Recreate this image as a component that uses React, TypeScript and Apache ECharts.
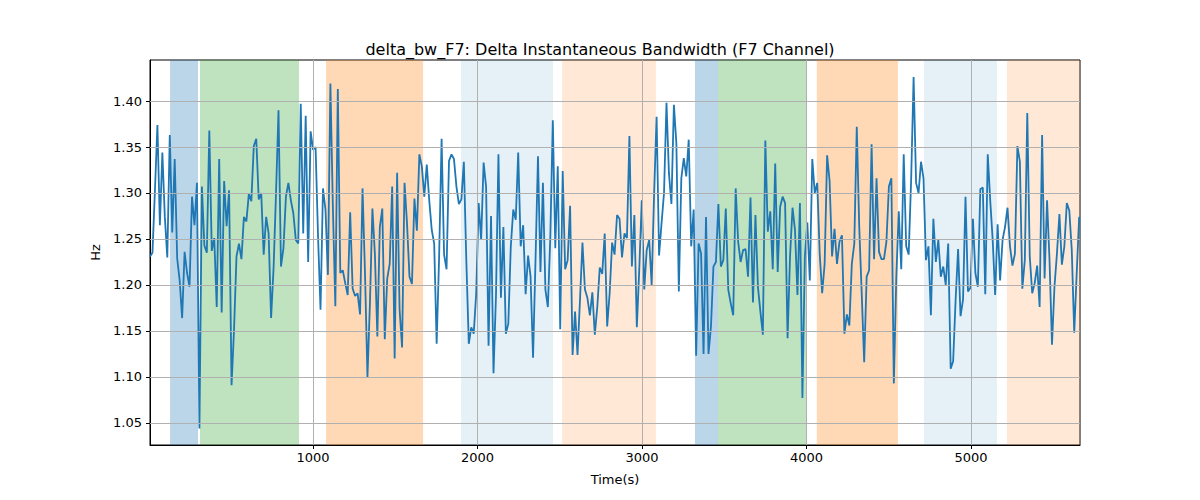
import { useEffect, useRef } from 'react';
import * as echarts from 'echarts';

const title = 'delta_bw_F7: Delta Instantaneous Bandwidth (F7 Channel)';
const tStart = 9;
const tEnd = 5658;

const values = [
  1.231, 1.235, 1.303, 1.374, 1.265, 1.344, 1.274, 1.230, 1.363, 1.257, 1.337, 1.229, 1.205, 1.164, 1.236, 1.213,
  1.198, 1.296, 1.265, 1.311, 1.044, 1.307, 1.243, 1.235, 1.368, 1.237, 1.251, 1.176, 1.337, 1.170, 1.313, 1.264,
  1.303, 1.091, 1.151, 1.231, 1.245, 1.228, 1.274, 1.269, 1.299, 1.291, 1.351, 1.359, 1.293, 1.300, 1.233, 1.274,
  1.256, 1.164, 1.218, 1.300, 1.390, 1.220, 1.240, 1.296, 1.311, 1.292, 1.278, 1.249, 1.245, 1.397, 1.256, 1.384,
  1.225, 1.367,
  1.347, 1.350, 1.253, 1.173, 1.305, 1.282, 1.211, 1.419, 1.285, 1.177, 1.413, 1.213, 1.216, 1.202, 1.189, 1.279,
  1.196, 1.188, 1.191, 1.168, 1.305, 1.213, 1.100, 1.180, 1.283, 1.234, 1.144, 1.263, 1.283, 1.141, 1.207, 1.223,
  1.307, 1.120, 1.322, 1.173, 1.132, 1.311, 1.267, 1.209, 1.201, 1.294, 1.259, 1.342, 1.329, 1.296, 1.331, 1.292,
  1.260, 1.245, 1.136, 1.231, 1.359, 1.233, 1.217, 1.335, 1.342, 1.337, 1.307, 1.288, 1.293, 1.334,
  1.227, 1.136, 1.154, 1.147, 1.191, 1.289, 1.249, 1.333, 1.307, 1.134, 1.275, 1.104, 1.188, 1.342, 1.186, 1.263,
  1.147, 1.158, 1.242, 1.282, 1.271, 1.344, 1.242, 1.265, 1.190, 1.232, 1.209, 1.121, 1.227, 1.340, 1.214, 1.311,
  1.195, 1.176, 1.253, 1.379, 1.240, 1.329, 1.152, 1.324, 1.217, 1.227, 1.286, 1.124, 1.171, 1.124, 1.184, 1.246,
  1.195, 1.186, 1.167, 1.192, 1.146, 1.176, 1.219, 1.212, 1.256, 1.155, 1.191, 1.246, 1.233, 1.276, 1.272,
  1.230, 1.256, 1.251, 1.362, 1.220, 1.276, 1.154, 1.218, 1.292, 1.195, 1.238, 1.249, 1.200, 1.300, 1.383, 1.232,
  1.267, 1.300, 1.398, 1.321, 1.288, 1.396, 1.354, 1.193, 1.316, 1.338, 1.318, 1.358, 1.242, 1.282, 1.123, 1.245,
  1.234, 1.125, 1.274, 1.125, 1.155, 1.220, 1.225, 1.288, 1.220, 1.227, 1.283, 1.195, 1.180, 1.167, 1.305, 1.247,
  1.225, 1.238, 1.239, 1.209, 1.295, 1.181, 1.276, 1.198, 1.171, 1.146, 1.357, 1.258, 1.280, 1.217, 1.332,
  1.214, 1.285, 1.296, 1.289, 1.142, 1.231, 1.284, 1.260, 1.189, 1.289, 1.077, 1.231, 1.268, 1.205, 1.337, 1.300,
  1.311, 1.234, 1.191, 1.223, 1.341, 1.313, 1.231, 1.261, 1.223, 1.247, 1.254, 1.147, 1.168, 1.156, 1.223, 1.245,
  1.372, 1.263, 1.191, 1.116, 1.209, 1.216, 1.353, 1.228, 1.316, 1.236, 1.228, 1.228, 1.247, 1.307, 1.316, 1.093,
  1.209, 1.280, 1.217, 1.342, 1.242, 1.233, 1.314, 1.426, 1.311, 1.300, 1.334, 1.316, 1.227, 1.242,
  1.167, 1.272, 1.225, 1.249, 1.209, 1.220, 1.200, 1.245, 1.109, 1.117, 1.184, 1.239, 1.166, 1.184, 1.296, 1.193,
  1.197, 1.272, 1.213, 1.198, 1.304, 1.306, 1.190, 1.342, 1.292, 1.249, 1.189, 1.266, 1.205, 1.249, 1.263, 1.284,
  1.242, 1.221, 1.234, 1.351, 1.334, 1.196, 1.227, 1.387, 1.231, 1.191, 1.202, 1.221, 1.176, 1.363, 1.207, 1.292,
  1.227, 1.135, 1.198, 1.234, 1.277, 1.222, 1.242, 1.289, 1.281, 1.238, 1.148, 1.213, 1.274,
];

// shaded phases: [start, end, colour, opacity]
const bands: [number, number, string, number][] = [
  [131, 301, '#1f77b4', 0.3],
  [313, 915, '#2ca02c', 0.3],
  [1079, 1669, '#ff7f0e', 0.3],
  [1900, 2459, '#1f77b4', 0.11],
  [2514, 3085, '#ff7f0e', 0.17],
  [3322, 3462, '#1f77b4', 0.3],
  [3462, 4003, '#2ca02c', 0.3],
  [4063, 4556, '#ff7f0e', 0.3],
  [4714, 5158, '#1f77b4', 0.11],
  [5219, 5663, '#ff7f0e', 0.17],
];

const xTicks = [1000, 2000, 3000, 4000, 5000];
const yTicks = [1.05, 1.1, 1.15, 1.2, 1.25, 1.3, 1.35, 1.4];

export default function App() {
  const ref = useRef<HTMLDivElement>(null);

  useEffect(() => {
    document.body.style.margin = '0';
    if (!ref.current) return;
    const chart = echarts.init(ref.current, null, { renderer: 'svg' });
    const step = (tEnd - tStart) / (values.length - 1);
    const data = values.map((v, i) => [tStart + i * step, v]);
    const font = 'DejaVu Sans';
    const grid = { lineStyle: { color: '#b0b0b0', width: 1, type: 'solid' as const } };

    chart.setOption({
      animation: false,
      textStyle: { fontFamily: font },
      title: {
        text: title,
        left: 'center',
        top: 36,
        textStyle: { fontFamily: font, fontSize: 16, fontWeight: 'normal', color: '#000' },
      },
      grid: { left: 150, right: 120, top: 60, bottom: 55, show: true, borderColor: '#000', borderWidth: 1 },
      xAxis: {
        type: 'value',
        min: 9,
        max: 5663,
        name: 'Time(s)',
        nameLocation: 'middle',
        nameGap: 28,
        nameTextStyle: { fontSize: 13, color: '#000' },
        axisLine: { show: true, lineStyle: { color: '#000' } },
        axisTick: { show: true, customValues: xTicks, length: 4, lineStyle: { color: '#000' } },
        axisLabel: { customValues: xTicks, fontSize: 13, color: '#000', margin: 6, formatter: (v: number) => String(v) },
        splitLine: { show: false },
      },
      yAxis: {
        type: 'value',
        min: 1.026,
        max: 1.4446,
        name: 'Hz',
        nameLocation: 'middle',
        nameGap: 46,
        nameTextStyle: { fontSize: 13, color: '#000' },
        axisLine: { show: true, lineStyle: { color: '#000' } },
        axisTick: { show: true, customValues: yTicks, length: 4, lineStyle: { color: '#000' } },
        axisLabel: { customValues: yTicks, fontSize: 13, color: '#000', formatter: (v: number) => v.toFixed(2) },
        splitLine: { show: false },
      },
      series: [
        {
          type: 'line',
          data,
          showSymbol: false,
          lineStyle: { color: '#1f77b4', width: 1.8 },
          z: 3,
          markArea: {
            silent: true,
            data: bands.map(([a, b, c, o]) => [
              { xAxis: a, itemStyle: { color: c, opacity: o } },
              { xAxis: b },
            ]),
          },
          markLine: {
            silent: true,
            symbol: 'none',
            label: { show: false },
            ...grid,
            data: [...xTicks.map((x) => ({ xAxis: x })), ...yTicks.map((y) => ({ yAxis: y }))],
          },
        },
      ],
    });
    return () => chart.dispose();
  }, []);

  return <div ref={ref} style={{ width: 1200, height: 500 }} />;
}
